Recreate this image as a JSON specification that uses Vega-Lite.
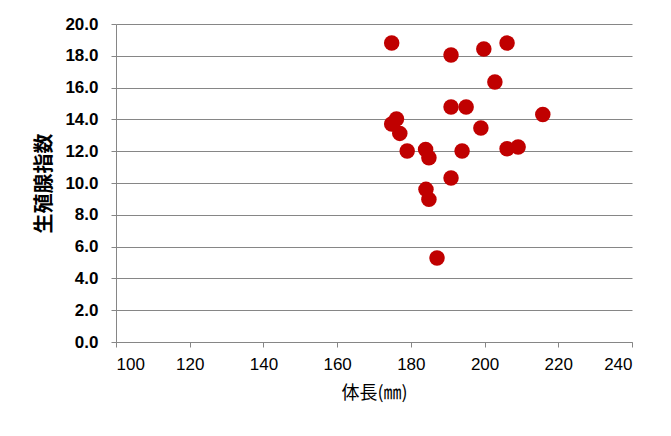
{
  "$schema": "https://vega.github.io/schema/vega-lite/v6.json",
  "width": 516,
  "height": 318,
  "autosize": {"type": "none"},
  "padding": {"left": 116, "top": 24, "right": 39, "bottom": 94},
  "background": "white",
  "data": {
    "values": [
      {"length": 174.8, "gsi": 18.8},
      {"length": 190.9, "gsi": 18.05},
      {"length": 199.8, "gsi": 18.43},
      {"length": 206.1, "gsi": 18.8},
      {"length": 202.8, "gsi": 16.35},
      {"length": 190.9, "gsi": 14.78},
      {"length": 195.0, "gsi": 14.78},
      {"length": 215.8, "gsi": 14.31},
      {"length": 176.1, "gsi": 14.02},
      {"length": 174.8, "gsi": 13.71},
      {"length": 177.0, "gsi": 13.12},
      {"length": 199.0, "gsi": 13.46},
      {"length": 179.0, "gsi": 12.01},
      {"length": 184.0, "gsi": 12.11},
      {"length": 184.9, "gsi": 11.59},
      {"length": 193.9, "gsi": 12.01},
      {"length": 206.1, "gsi": 12.16},
      {"length": 209.1, "gsi": 12.26},
      {"length": 190.9, "gsi": 10.31},
      {"length": 184.1, "gsi": 9.6},
      {"length": 184.9, "gsi": 8.97},
      {"length": 187.1, "gsi": 5.28}
    ]
  },
  "mark": {"type": "circle", "size": 240, "color": "#C00000", "opacity": 1},
  "encoding": {
    "x": {
      "field": "length",
      "type": "quantitative",
      "title": "体長(㎜)",
      "scale": {"domain": [100, 240], "nice": false, "zero": false},
      "axis": {
        "values": [100, 120, 140, 160, 180, 200, 220, 240],
        "grid": false,
        "tickSize": 5,
        "labelPadding": 9,
        "labelFontSize": 17,
        "titleFontSize": 18,
        "titleFontWeight": "normal",
        "titlePadding": 12
      }
    },
    "y": {
      "field": "gsi",
      "type": "quantitative",
      "title": "生殖腺指数",
      "scale": {"domain": [0, 20], "nice": false},
      "axis": {
        "values": [0, 2, 4, 6, 8, 10, 12, 14, 16, 18, 20],
        "format": ".1f",
        "tickSize": 5,
        "labelPadding": 13,
        "labelFontSize": 17,
        "labelFontWeight": "bold",
        "titleFontSize": 20,
        "titleFontWeight": "bold",
        "titlePadding": 10
      }
    }
  },
  "config": {
    "view": {"stroke": null},
    "font": "Noto Sans CJK JP",
    "axis": {
      "domainColor": "#868686",
      "tickColor": "#868686",
      "gridColor": "#868686",
      "gridOpacity": 1,
      "labelColor": "black",
      "titleColor": "black",
      "labelFont": "Liberation Sans",
      "titleFont": "Noto Sans CJK JP"
    }
  }
}
